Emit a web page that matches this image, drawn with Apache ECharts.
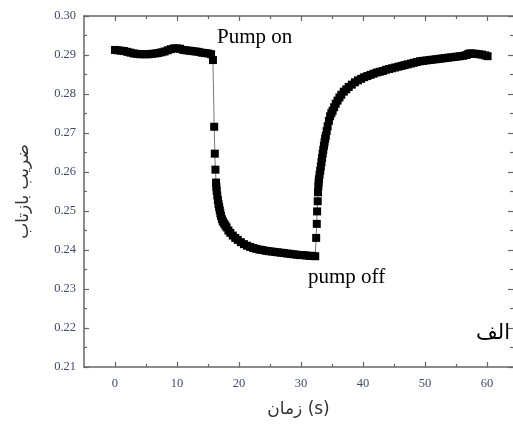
<!DOCTYPE html>
<html>
<head>
<meta charset="utf-8">
<script src="https://cdn.jsdelivr.net/npm/echarts@6/dist/echarts.min.js"></script>
<style>
	html, body { margin: 0; padding: 0; background: #fff; }
	#chart { width: 513px; height: 428px; }
</style>
</head>
<body>
<div id="chart"></div>
<script>
	// time (s) and reflection coefficient
	var times = [
		0, 0.5, 1, 1.5, 2, 2.5, 3, 3.5, 4, 4.5, 5, 5.5, 6, 6.5, 7, 7.5, 8, 8.5, 9, 9.5,
		10, 10.5, 11, 11.5, 12, 12.5, 13, 13.5, 14, 14.5, 15, 15.5, 15.8,
		16.0, 16.1, 16.2, 16.3, 16.35, 16.4, 16.5, 16.6, 16.7, 16.8, 16.9, 17.0, 17.1, 17.25, 17.4,
		17.6, 17.8, 18.0, 18.3, 18.6, 19.0, 19.4, 19.8, 20.3, 20.8, 21.3, 21.8, 22.3, 22.8, 23.3,
		23.8, 24.3, 24.8, 25.3, 25.8, 26.3, 26.8, 27.3, 27.8, 28.3, 28.8, 29.3, 29.8, 30.3, 30.8,
		31.3, 31.8, 32.3,
		32.45, 32.55, 32.6, 32.7, 32.75, 32.8, 32.85, 32.9, 33.0, 33.1, 33.2, 33.3, 33.4, 33.5,
		33.6, 33.7, 33.8, 33.9, 34.0, 34.15, 34.3, 34.5, 34.7, 34.9, 35.1, 35.35, 35.6, 35.9,
		36.2, 36.5, 36.9, 37.3, 37.7, 38.2, 38.7, 39.2, 39.7, 40.2, 40.7, 41.2, 41.7, 42.2, 42.7,
		43.2, 43.7, 44.2, 44.7, 45.2, 45.7, 46.2, 46.7, 47.2, 47.7, 48.2, 48.7, 49.2, 49.7, 50.2,
		50.7, 51.2, 51.7, 52.2, 52.7, 53.2, 53.7, 54.2, 54.7, 55.2, 55.7, 56.2, 56.7, 57.0, 57.3,
		57.7, 58.2, 58.7, 59.2, 59.7, 60.1
	];
	var reflect = [
		0.2913, 0.2912, 0.2911, 0.2910, 0.2908, 0.2906, 0.2904, 0.2903, 0.2902, 0.2902, 0.2902, 0.2902, 0.2903, 0.2904, 0.2905, 0.2907, 0.2909, 0.2912, 0.2915, 0.2917,
		0.2917, 0.2916, 0.2913, 0.2912, 0.2911, 0.2910, 0.2909, 0.2908, 0.2906, 0.2905, 0.2904, 0.2902, 0.2887,
		0.2716, 0.2647, 0.2606, 0.2573, 0.2562, 0.2552, 0.2540, 0.2528, 0.2518, 0.2510, 0.2502, 0.2494, 0.2487, 0.2479, 0.2473,
		0.2468, 0.2463, 0.2458, 0.2450, 0.2444, 0.2437, 0.2431, 0.2426, 0.2420, 0.2415, 0.2411, 0.2408, 0.2405, 0.2403, 0.2401,
		0.2400, 0.2398, 0.2397, 0.2396, 0.2395, 0.2394, 0.2393, 0.2392, 0.2391, 0.2390, 0.2389, 0.2388, 0.2387, 0.2387, 0.2386,
		0.2385, 0.2385, 0.2384,
		0.2431, 0.2467, 0.2499, 0.2525, 0.2548, 0.2563, 0.2573, 0.2582, 0.2593, 0.2603, 0.2614, 0.2625, 0.2636, 0.2647,
		0.2657, 0.2667, 0.2676, 0.2685, 0.2693, 0.2705, 0.2717, 0.2731, 0.2743, 0.2751, 0.2757, 0.2766, 0.2775, 0.2783,
		0.2791, 0.2798, 0.2806, 0.2812, 0.2818, 0.2824, 0.2830, 0.2835, 0.2839, 0.2843, 0.2846, 0.2849, 0.2852, 0.2855, 0.2857,
		0.2859, 0.2862, 0.2864, 0.2866, 0.2868, 0.2870, 0.2872, 0.2874, 0.2876, 0.2878, 0.2880, 0.2882, 0.2884, 0.2885, 0.2886,
		0.2887, 0.2888, 0.2889, 0.2890, 0.2891, 0.2892, 0.2893, 0.2894, 0.2895, 0.2896, 0.2897, 0.2898, 0.2900, 0.2903, 0.2904,
		0.2904, 0.2903, 0.2902, 0.2901, 0.2899, 0.2897
	];
	var xMajorTicks = [0, 10, 20, 30, 40, 50, 60];
	var xMinorTicks = [5, 15, 25, 35, 45, 55];

	var axisColor = '#666';
	var labelColor = '#404b68';
	var serif = 'Liberation Serif';

	var points = [];
	for(var i = 0; i < times.length; i++)
		points.push([times[i], reflect[i]]);

	// builds one x axis of the box; ticks point inwards
	function xBox(pos, ticks, len, withLabel, withLine){
		return {
			type: 'value',
			position: pos,
			min: -5,
			max: 64.2,
			splitLine: { show: false },
			axisLine: { show: withLine, onZero: false, lineStyle: { color: axisColor, width: 1.5 } },
			axisTick: { inside: true, length: len, customValues: ticks, lineStyle: { color: axisColor, width: 1.2 } },
			axisLabel: withLabel ? {
				customValues: ticks,
				margin: 10,
				color: labelColor,
				fontFamily: serif,
				fontSize: 12.5
			} : { show: false }
		};
	}

	function yBox(pos, withLabel){
		return {
			type: 'value',
			position: pos,
			min: 0.21,
			max: 0.30,
			interval: 0.01,
			splitLine: { show: false },
			// right side of the box is cut off in the picture: only its ticks show
			axisLine: { show: withLabel, onZero: false, lineStyle: { color: axisColor, width: 1.5 } },
			axisTick: { inside: true, length: 5, lineStyle: { color: axisColor, width: 1.2 } },
			minorTick: { show: true, splitNumber: 2, length: 3, lineStyle: { color: axisColor, width: 1.2 } },
			axisLabel: withLabel ? {
				margin: 8,
				color: labelColor,
				fontFamily: serif,
				fontSize: 12.5,
				formatter: function(v){ return v.toFixed(2); }
			} : { show: false }
		};
	}

	var chart = echarts.init(document.getElementById('chart'));
	var yLeft = yBox('left', true);
	yLeft.name = 'ضریب بازتاب';
	yLeft.nameLocation = 'middle';
	yLeft.nameGap = 52;
	yLeft.nameTextStyle = { fontFamily: 'DejaVu Sans', fontSize: 17, color: '#333' };

	var xBottom = xBox('bottom', xMajorTicks, 5, true, true);
	xBottom.name = 'زمان (s)';
	xBottom.nameLocation = 'middle';
	xBottom.nameGap = 34;
	xBottom.nameTextStyle = { fontFamily: 'DejaVu Sans', fontSize: 17, color: '#333' };

	chart.setOption({
		animation: false,
		grid: { left: 84, right: -1, top: 16, bottom: 61 },
		xAxis: [
			xBottom,
			xBox('bottom', xMinorTicks, 3, false, false),
			xBox('top', xMajorTicks, 5, false, true),
			xBox('top', xMinorTicks, 3, false, false)
		],
		yAxis: [yLeft, yBox('right', false)],
		series: [{
			type: 'line',
			xAxisIndex: 0,
			yAxisIndex: 0,
			data: points,
			symbol: 'rect',
			symbolSize: 8,
			itemStyle: { color: '#000' },
			lineStyle: { color: '#555', width: 0.8 }
		}],
		graphic: [
			{ type: 'text', left: 217, top: 27, style: { text: 'Pump on', font: '21px "Liberation Serif"', fill: '#000' } },
			{ type: 'text', left: 308, top: 267, style: { text: 'pump off', font: '21px "Liberation Serif"', fill: '#000' } },
			{ type: 'text', right: 3, top: 323, style: { text: 'الف', font: '21px "DejaVu Sans"', fill: '#000' } }
		]
	});
</script>
</body>
</html>
